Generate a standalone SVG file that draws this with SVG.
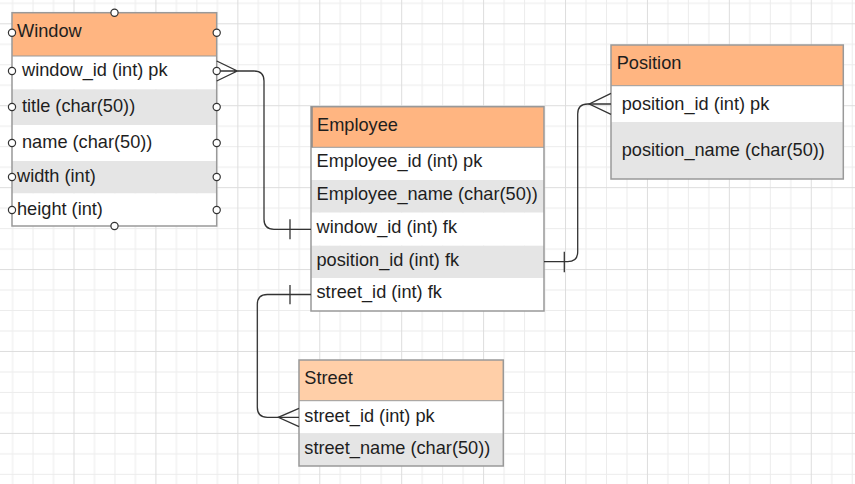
<svg xmlns="http://www.w3.org/2000/svg" width="855" height="484" viewBox="0 0 855 484">
<defs>
<pattern id="grid" patternUnits="userSpaceOnUse" x="73.5" y="23.3" width="81.92" height="81.92">
<rect x="0" y="20.48" width="81.92" height="1" fill="#ececec"/>
<rect x="0" y="40.96" width="81.92" height="1" fill="#ececec"/>
<rect x="0" y="61.44" width="81.92" height="1" fill="#ececec"/>
<rect x="20.48" y="0" width="1" height="81.92" fill="#ececec"/>
<rect x="40.96" y="0" width="1" height="81.92" fill="#ececec"/>
<rect x="61.44" y="0" width="1" height="81.92" fill="#ececec"/>
<rect x="0" y="0" width="81.92" height="1" fill="#dddddd"/>
<rect x="0" y="0" width="1" height="81.92" fill="#dddddd"/>
</pattern>
</defs>
<style>
text{font-family:"Liberation Sans",Arial,sans-serif;font-size:18.2px;fill:#1e1e1e}
.hd{fill:#ffb581}
.hdl{fill:#ffcfa8}
.wr{fill:#ffffff}
.gr{fill:#e5e5e5}
.bd{fill:none;stroke:#999999;stroke-width:1.5}
.sep{stroke:#999999;stroke-width:1}
.pt{fill:#ffffff;stroke:#333333;stroke-width:1.2}
.cn{fill:none;stroke:#333333;stroke-width:1.3}
</style>
<rect width="855" height="484" fill="#ffffff"/>
<rect width="855" height="484" fill="url(#grid)"/>

<g id="window">
<rect class="hd" x="12" y="12.7" width="204.7" height="43.3"/>
<rect class="wr" x="12" y="56" width="204.7" height="33.3"/>
<rect class="gr" x="12" y="89.3" width="204.7" height="35.7"/>
<rect class="wr" x="12" y="125" width="204.7" height="36"/>
<rect class="gr" x="12" y="161" width="204.7" height="32.5"/>
<rect class="wr" x="12" y="193.5" width="204.7" height="32.5"/>
<line class="sep" x1="12" y1="56" x2="216.7" y2="56"/>
<rect class="bd" x="12" y="12.7" width="204.7" height="213.3"/>
<text x="17" y="36.5">Window</text>
<text x="22" y="76.3">window_id (int) pk</text>
<text x="22" y="112.3">title (char(50))</text>
<text x="22" y="148.3">name (char(50))</text>
<text x="17" y="182.3">width (int)</text>
<text x="17" y="214.5">height (int)</text>
<circle class="pt" cx="114.5" cy="12.7" r="3.6"/>
<circle class="pt" cx="114.5" cy="226" r="3.6"/>
<circle class="pt" cx="12" cy="32.7" r="3.6"/>
<circle class="pt" cx="12" cy="71" r="3.6"/>
<circle class="pt" cx="12" cy="107" r="3.6"/>
<circle class="pt" cx="12" cy="143" r="3.6"/>
<circle class="pt" cx="12" cy="177" r="3.6"/>
<circle class="pt" cx="12" cy="210" r="3.6"/>
<circle class="pt" cx="216.7" cy="32.7" r="3.6"/>
<circle class="pt" cx="216.7" cy="107" r="3.6"/>
<circle class="pt" cx="216.7" cy="143" r="3.6"/>
<circle class="pt" cx="216.7" cy="177" r="3.6"/>
<circle class="pt" cx="216.7" cy="210" r="3.6"/>
</g>

<g id="employee">
<rect class="hd" x="311" y="106.7" width="233" height="40.6"/>
<rect class="wr" x="311" y="147.3" width="233" height="32.7"/>
<rect class="gr" x="311" y="180" width="233" height="32.7"/>
<rect class="wr" x="311" y="212.7" width="233" height="33"/>
<rect class="gr" x="311" y="245.7" width="233" height="32.3"/>
<rect class="wr" x="311" y="278" width="233" height="33"/>
<line class="sep" x1="311" y1="147.3" x2="544" y2="147.3"/>
<rect class="bd" x="311" y="106.7" width="233" height="204.3"/>
<line x1="312" y1="106.7" x2="312" y2="147.3" stroke="#8a8a8a" stroke-width="1.5"/>
<text x="317" y="131.3">Employee</text>
<text x="316.5" y="167.3">Employee_id (int) pk</text>
<text x="316.5" y="200.3">Employee_name (char(50))</text>
<text x="316.5" y="233.3">window_id (int) fk</text>
<text x="316.5" y="265.8">position_id (int) fk</text>
<text x="316.5" y="298.3">street_id (int) fk</text>
</g>

<g id="position">
<rect class="hd" x="611" y="45" width="232.3" height="40.7"/>
<rect class="wr" x="611" y="85.7" width="232.3" height="36.3"/>
<rect class="gr" x="611" y="122" width="232.3" height="57"/>
<line class="sep" x1="611" y1="85.7" x2="843.3" y2="85.7"/>
<rect class="bd" x="611" y="45" width="232.3" height="134"/>
<text x="616.7" y="69.3">Position</text>
<text x="621.7" y="109.8">position_id (int) pk</text>
<text x="621.7" y="155.8">position_name (char(50))</text>
</g>

<g id="street">
<rect class="hdl" x="299" y="360" width="204.3" height="40.7"/>
<rect class="wr" x="299" y="400.7" width="204.3" height="32.6"/>
<rect class="gr" x="299" y="433.3" width="204.3" height="32.7"/>
<line class="sep" x1="299" y1="400.7" x2="503.3" y2="400.7"/>
<rect class="bd" x="299" y="360" width="204.3" height="106"/>
<text x="304.3" y="384.3">Street</text>
<text x="304.3" y="421.8">street_id (int) pk</text>
<text x="304.3" y="454.3">street_name (char(50))</text>
</g>

<g id="connectors">
<path class="cn" d="M237.3 71 H254 Q264 71 264 81 V219.3 Q264 229.3 274 229.3 H311"/>
<path class="cn" d="M216.7 61 L237.3 71 L216.7 81 M216.7 71 H237.3"/>
<line class="cn" x1="290" y1="219.3" x2="290" y2="239.3"/>
<circle class="pt" cx="216.7" cy="71" r="3.6"/>

<path class="cn" d="M544 261.7 H567.7 Q577.7 261.7 577.7 251.7 V114 Q577.7 104 587.7 104 H611"/>
<path class="cn" d="M611 93.3 L589.3 104 L611 114.3"/>
<line class="cn" x1="564.3" y1="251.7" x2="564.3" y2="272.3"/>

<path class="cn" d="M311 294.5 H267.3 Q257.3 294.5 257.3 304.5 V407.3 Q257.3 417.3 267.3 417.3 H299"/>
<path class="cn" d="M299 408.3 L278.3 417.3 L299 426.7"/>
<line class="cn" x1="290" y1="285" x2="290" y2="304.3"/>
</g>
</svg>
